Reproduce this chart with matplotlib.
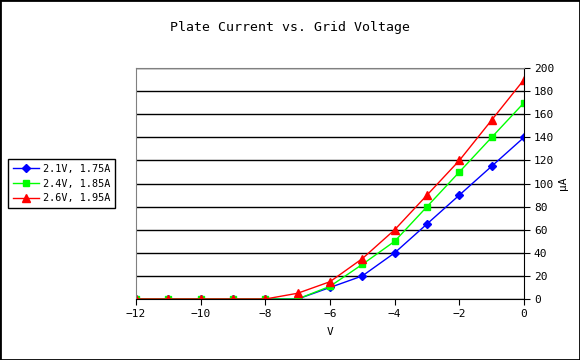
import numpy as np
import matplotlib
matplotlib.use("Agg")
import matplotlib.pyplot as plt
from matplotlib.patches import Rectangle

# grid voltage (V)
volts = [-12, -11, -10, -9, -8, -7, -6, -5, -4, -3, -2, -1, 0]
# plate current (uA) for each filament setting
cur_21 = [0, 0, 0, 0, 0, 0, 10, 20, 40, 65, 90, 115, 140]
cur_24 = [0, 0, 0, 0, 0, 0, 11, 30, 50, 80, 110, 140, 170]
cur_26 = [0, 0, 0, 0, 0, 5, 15, 35, 60, 90, 120, 155, 190]
labels = ["2.1V, 1.75A", "2.4V, 1.85A", "2.6V, 1.95A"]

plt.rcParams['font.family'] = 'DejaVu Sans Mono'
plt.rcParams['font.size'] = 8

fig = plt.figure(figsize=(5.8, 3.6), dpi=100)
ax = fig.add_axes([0.2345, 0.1694, 0.669, 0.6416])

ax.plot(volts, cur_21, color='#0000ff', marker='D', ms=4, lw=1, label=labels[0])
ax.plot(volts, cur_24, color='#00ff00', marker='s', ms=5, lw=1, label=labels[1])
ax.plot(volts, cur_26, color='#ff0000', marker='^', ms=6, lw=1, label=labels[2])

ax.set_xlim(-12, 0)
ax.set_ylim(0, 200)
ax.set_xticks(np.arange(-12, 1, 2))
ax.set_yticks(np.arange(0, 201, 20))
ax.yaxis.tick_right()
ax.yaxis.set_label_position('right')
ax.grid(axis='y', color='black', lw=1)
ax.set_axisbelow(True)
ax.tick_params(direction='out', length=4, color='black', pad=3)

ax.spines['left'].set_color('#808080')
ax.spines['top'].set_color('#808080')
ax.spines['right'].set_color('black')
ax.spines['bottom'].set_color('black')

ax.set_xlabel('V', labelpad=6)
ax.set_ylabel('\u00b5A', labelpad=3)
fig.text(0.5, 0.925, 'Plate Current vs. Grid Voltage', ha='center', va='center', fontsize=9.5)

leg = fig.legend(loc='center left', bbox_to_anchor=(8 / 580, 1 - 183.5 / 360),
                 frameon=True, fancybox=False, edgecolor='black', framealpha=1,
                 fontsize=7.3, handlelength=2.6, handletextpad=0.4,
                 borderpad=0.45, labelspacing=0.45, borderaxespad=0)
leg.get_frame().set_linewidth(1)

fig.patches.append(Rectangle((0, 0), 1, 1, transform=fig.transFigure,
                             fill=False, edgecolor='black', lw=2))

fig.savefig('out.png', dpi=100)
